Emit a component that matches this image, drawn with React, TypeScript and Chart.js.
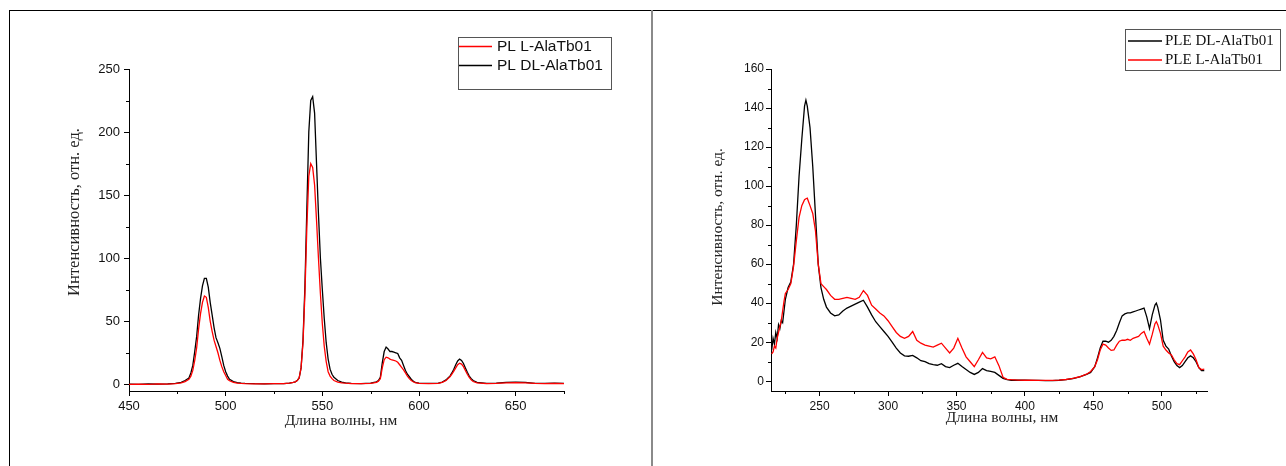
import React, { useEffect, useRef } from "react";
import { Chart, registerables } from "chart.js";

Chart.register(...registerables);

// ---------------- Left panel: PL spectra ----------------
const plWavelength = [
  450, 455, 460, 465, 470, 474, 477, 479, 481, 482,
  483, 484, 485, 486, 487, 488, 489, 490, 491, 492,
  493, 494, 495, 496, 497, 498, 499, 500, 501, 502,
  504, 506, 508, 510, 515, 520, 525, 530, 533, 535,
  536, 537, 538, 539, 540, 541, 542, 543, 544, 545,
  546, 547, 548, 549, 550, 551, 552, 553, 554, 555,
  556, 558, 560, 562, 565, 570, 575, 578, 579, 580,
  581, 582, 583, 584, 585, 586, 587, 588, 589, 590,
  591, 592, 593, 594, 595, 596, 597, 598, 600, 605,
  610, 612, 614, 615, 616, 617, 618, 619, 620, 621,
  622, 623, 624, 625, 626, 627, 628, 630, 635, 640,
  645, 650, 655, 660, 665, 670, 675,
];
const plDL = [
  0.2, 0, 0.3, 0.1, 0.4, 0.8, 1.6, 3, 5, 9,
  15, 26, 38, 55, 68, 78, 84, 84, 77, 65,
  55, 45, 37, 33, 28.5, 22, 15, 10, 6.5, 4,
  2.2, 1.4, 1, 0.8, 0.5, 0.4, 0.5, 0.6, 0.9, 1.5,
  2, 3, 5, 13, 35, 78, 140, 200, 225, 228,
  215, 175, 135, 100, 75, 52, 33, 20, 12, 8,
  5.5, 3, 1.8, 1.2, 0.8, 0.6, 0.9, 2, 3, 5.5,
  17, 26, 29.5, 28, 26, 26, 25.5, 25, 24.5, 21,
  19, 15, 11, 8, 6, 4, 2.5, 1.5, 1, 0.7,
  0.9, 1.8, 3.5, 5, 6.5, 9, 12, 15.5, 18.5, 20,
  19, 16.5, 13, 9.5, 6.5, 4.5, 3, 1.5, 0.8, 0.9,
  1.6, 1.8, 1.5, 0.8, 0.7, 1, 0.8,
];
const plL = [
  0, 0.2, 0, 0.3, 0.2, 0.6, 1.2, 2.2, 4, 6.5,
  11, 19, 29, 44, 56, 65, 70, 69, 61, 50,
  42, 35, 30, 25, 19, 14, 10, 7, 4, 2.8,
  1.6, 1, 0.7, 0.5, 0.4, 0.3, 0.5, 0.6, 0.9, 1.5,
  2, 3, 5, 13, 33, 72, 125, 165, 175, 172,
  158, 130, 100, 72, 48, 30, 18, 10, 6.5, 4.5,
  3, 1.8, 1.2, 0.9, 0.6, 0.5, 0.7, 1.5, 2.5, 4.5,
  13, 19.5, 21.5, 21, 20, 19.3, 19, 18.5, 17.5, 15.5,
  13.5, 11.5, 9, 6.5, 4.5, 3, 2, 1.3, 0.8, 0.6,
  0.7, 1.5, 3, 4.5, 6, 8, 10.5, 13, 15.5, 16.7,
  16, 14, 11, 8, 5.5, 3.5, 2.2, 1.2, 0.6, 0.7,
  1.2, 1.3, 1.1, 0.7, 0.6, 0.8, 0.6,
];
const plXTicks = [450, 475, 500, 525, 550, 575, 600, 625, 650, 675];
const plXLabels = [450, 500, 550, 600, 650];
const plYTicks = [0, 25, 50, 75, 100, 125, 150, 175, 200, 225, 250];
const plYLabels = [0, 50, 100, 150, 200, 250];

// ---------------- Right panel: PLE spectra ----------------
const pleWavelength = [
  215, 216, 217, 218, 219, 220, 221, 222, 223, 224,
  225, 227, 229, 231, 233, 235, 237, 239, 240, 241,
  243, 245, 247, 249, 251, 253, 255, 258, 261, 264,
  267, 270, 273, 276, 279, 282, 285, 288, 291, 294,
  297, 300, 303, 306, 309, 312, 315, 318, 321, 324,
  327, 330, 333, 336, 339, 342, 345, 348, 351, 354,
  357, 360, 363, 366, 369, 372, 375, 378, 381, 384,
  387, 390, 395, 400, 405, 410, 415, 420, 425, 430,
  435, 440, 445, 448, 451, 453, 455, 457, 459, 461,
  463, 465, 467, 469, 471, 473, 475, 477, 479, 481,
  483, 485, 487, 489, 491, 493, 495, 496, 497, 499,
  501, 503, 505, 507, 509, 511, 513, 515, 517, 519,
  521, 523, 525, 527, 529, 531,
];
const pleDL = [
  16, 22, 19, 25, 22, 29, 27, 31, 30, 36,
  42, 48, 51, 60, 80, 105, 124, 141, 144, 141,
  130, 110, 85, 60, 48, 42, 38, 35, 33.5, 34,
  36, 37.5, 38.5, 39.5, 40.5, 41.5, 38, 34, 30.5, 28,
  25.5, 23, 20, 17, 14.5, 13, 12.8, 13.2, 12, 10.5,
  10, 9, 8.5, 8.2, 9, 7.5, 7, 8.2, 9.2, 7.5,
  6, 4.5, 3.5, 4.5, 6.5, 5.5, 5, 4.5, 3, 1.5,
  0.8, 0.5, 0.5, 0.5, 0.4, 0.4, 0.3, 0.3, 0.5, 0.8,
  1.4, 2.2, 3.5, 4.5, 7.5, 12, 17, 20.5, 20.5, 20,
  21, 23, 26, 30, 33.5, 34.5, 35, 35, 35.5, 36,
  36.5, 37, 37.5, 33, 27, 34, 39, 40, 38, 31.5,
  21, 18, 16.5, 13, 10, 8, 7, 8, 10, 12,
  13, 12, 10, 7, 5.5, 5.5,
];
const pleL = [
  14, 15, 18, 17, 22, 25, 28, 31, 36, 41,
  45, 47, 50, 59, 72, 84, 90, 93, 93.5, 93.8,
  90, 86, 77, 60, 50, 48.5, 47, 44, 42, 42,
  42.5, 43, 42.5, 42, 43, 46.5, 44, 39, 37, 35,
  33.5, 31, 28, 25, 23, 22, 23, 25.5, 21, 19.5,
  18.5, 18, 17.5, 18.5, 19.5, 17, 14.5, 17, 22, 17,
  12.5, 10, 7.5, 11, 14.8, 12, 11.5, 12.5, 8, 2,
  1, 0.8, 0.6, 0.5, 0.5, 0.4, 0.4, 0.4, 0.6, 0.9,
  1.5, 2.3, 3.6, 5, 7.5, 11, 16, 19, 18.5, 17,
  15.8, 16, 18.5, 20.5, 21, 21, 21.5, 21, 22, 22.5,
  23, 24.5, 25.5, 22, 19, 24, 29.5, 30.6, 29, 24.5,
  18, 16, 14.5, 13.5, 11, 9, 8.5, 10.5, 12.5, 15,
  16, 14, 11, 7, 6, 6.2,
];
const pleXTicks = [225, 250, 275, 300, 325, 350, 375, 400, 425, 450, 475, 500, 525];
const pleXLabels = [250, 300, 350, 400, 450, 500];
const pleYTicks = [0, 10, 20, 30, 40, 50, 60, 70, 80, 90, 100, 110, 120, 130, 140, 150, 160];
const pleYLabels = [0, 20, 40, 60, 80, 100, 120, 140, 160];

const xTitleText = "Длина волны, нм";
const yTitleText = "Интенсивность, отн. ед.";

const SANS = "'Liberation Sans', Arial, sans-serif";
const SERIF = "'Liberation Serif', 'Times New Roman', serif";

type Series = { label: string; x: number[]; y: number[]; color: string; order: number };

type Panel = {
  left: number; top: number; width: number; height: number;
  area: { left: number; right: number; top: number; bottom: number };
  xMin: number; xMax: number; yMin: number; yMax: number;
  xTicks: number[]; xLabels: number[]; yTicks: number[]; yLabels: number[];
  series: Series[];
  tickSize: number; yPad: number; xPad: number;
  xTitle: { x: number; y: number; size: number };
  yTitle: { x: number; y: number; size: number };
  legend: {
    box: [number, number, number, number];
    rows: number[];
    line: [number, number];
    textX: number;
    font: string;
  };
};

const decorPlugin = {
  id: "decor",
  afterDraw(chart: any, _args: any, opts: any) {
    const ctx = chart.ctx as CanvasRenderingContext2D;
    const ca = chart.chartArea;
    const p: Panel = opts.panel;
    const ox = p.left;
    const oy = p.top;
    const xs = chart.scales.x;
    const ys = chart.scales.y;
    ctx.save();
    // minor ticks
    ctx.strokeStyle = "#000";
    ctx.lineWidth = 1;
    ctx.beginPath();
    p.xTicks.filter((v) => !p.xLabels.includes(v)).forEach((v) => {
      const px = Math.round(xs.getPixelForValue(v)) + 0.5;
      ctx.moveTo(px, ca.bottom);
      ctx.lineTo(px, ca.bottom + 3);
    });
    p.yTicks.filter((v) => !p.yLabels.includes(v)).forEach((v) => {
      const py = Math.round(ys.getPixelForValue(v)) + 0.5;
      ctx.moveTo(ca.left, py);
      ctx.lineTo(ca.left - 3, py);
    });
    ctx.stroke();

    // axis titles
    ctx.fillStyle = "#222";
    ctx.textAlign = "center";
    ctx.textBaseline = "alphabetic";
    ctx.font = `${p.xTitle.size}px ${SERIF}`;
    ctx.fillText(xTitleText, p.xTitle.x - ox, p.xTitle.y - oy);
    ctx.save();
    ctx.translate(p.yTitle.x - ox, p.yTitle.y - oy);
    ctx.rotate(-Math.PI / 2);
    ctx.textBaseline = "middle";
    ctx.font = `${p.yTitle.size}px ${SERIF}`;
    ctx.fillText(yTitleText, 0, 0);
    ctx.restore();

    // legend
    const lg = p.legend;
    ctx.strokeStyle = "#555";
    ctx.lineWidth = 1;
    ctx.strokeRect(Math.round(lg.box[0] - ox) + 0.5, Math.round(lg.box[1] - oy) + 0.5, Math.round(lg.box[2]), Math.round(lg.box[3]));
    ctx.font = lg.font;
    ctx.textAlign = "left";
    ctx.textBaseline = "middle";
    p.series.forEach((s, i) => {
      const y = lg.rows[i] - oy;
      ctx.strokeStyle = s.color;
      ctx.lineWidth = 1.3;
      ctx.beginPath();
      ctx.moveTo(lg.line[0] - ox, y);
      ctx.lineTo(lg.line[1] - ox, y);
      ctx.stroke();
      ctx.fillStyle = "#111";
      ctx.fillText(s.label, lg.textX - ox, y + 0.5);
    });
    ctx.restore();
  },
};

function buildConfig(p: Panel): any {
  const canvasBottom = p.top + p.height;
  const canvasRight = p.left + p.width;
  return {
    type: "line",
    data: {
      datasets: p.series.map((s) => ({
        label: s.label,
        data: s.x.map((x, i) => ({ x, y: s.y[i] })),
        borderColor: s.color,
        backgroundColor: s.color,
        borderWidth: 1.3,
        pointRadius: 0,
        tension: 0,
        fill: false,
        order: s.order,
      })),
    },
    options: {
      responsive: false,
      animation: false,
      devicePixelRatio: 1,
      layout: {
        padding: { left: 0, top: p.area.top - p.top, right: canvasRight - p.area.right, bottom: 0 },
      },
      plugins: {
        legend: { display: false },
        tooltip: { enabled: false },
        decor: { panel: p },
      },
      scales: {
        x: {
          type: "linear",
          min: p.xMin,
          max: p.xMax,
          afterBuildTicks: (s: any) => {
            s.ticks = p.xTicks.map((v) => ({ value: v }));
          },
          afterFit: (s: any) => {
            s.height = canvasBottom - p.area.bottom;
          },
          grid: {
            display: true,
            drawOnChartArea: false,
            drawTicks: true,
            tickLength: 5,
            tickWidth: 1,
            tickColor: (c: any) => (c.tick && p.xLabels.includes(c.tick.value) ? "#000" : "rgba(0,0,0,0)"),
          },
          border: { display: true, color: "#000", width: 1 },
          ticks: {
            autoSkip: false,
            maxRotation: 0,
            padding: p.xPad,
            color: "#111",
            font: { family: SANS, size: p.tickSize },
            callback: (v: number) => (p.xLabels.includes(v) ? String(v) : ""),
          },
          title: { display: false },
        },
        y: {
          type: "linear",
          min: p.yMin,
          max: p.yMax,
          afterBuildTicks: (s: any) => {
            s.ticks = p.yTicks.map((v) => ({ value: v }));
          },
          afterFit: (s: any) => {
            s.width = p.area.left - p.left;
          },
          grid: {
            display: true,
            drawOnChartArea: false,
            drawTicks: true,
            tickLength: 5,
            tickWidth: 1,
            tickColor: (c: any) => (c.tick && p.yLabels.includes(c.tick.value) ? "#000" : "rgba(0,0,0,0)"),
          },
          border: { display: true, color: "#000", width: 1 },
          ticks: {
            autoSkip: false,
            padding: p.yPad,
            color: "#111",
            font: { family: SANS, size: p.tickSize },
            callback: (v: number) => (p.yLabels.includes(v) ? String(v) : ""),
          },
          title: { display: false },
        },
      },
    },
    plugins: [decorPlugin],
  };
}

const leftPanel: Panel = {
  left: 10, top: 11, width: 641, height: 455,
  area: { left: 129, right: 564, top: 69, bottom: 391 },
  xMin: 450, xMax: 675, yMin: -5.3, yMax: 250,
  xTicks: plXTicks, xLabels: plXLabels, yTicks: plYTicks, yLabels: plYLabels,
  series: [
    { label: "PL L-AlaTb01", x: plWavelength, y: plL, color: "#ff0000", order: 0 },
    { label: "PL DL-AlaTb01", x: plWavelength, y: plDL, color: "#000000", order: 1 },
  ],
  tickSize: 13, yPad: 4, xPad: 3,
  xTitle: { x: 341, y: 425, size: 15.5 },
  yTitle: { x: 75, y: 212, size: 16.5 },
  legend: {
    box: [458, 37, 153, 52],
    rows: [46.5, 65.5],
    line: [459, 492],
    textX: 497,
    font: `15.5px ${SANS}`,
  },
};

const rightPanel: Panel = {
  left: 654, top: 11, width: 632, height: 455,
  area: { left: 771, right: 1207, top: 69, bottom: 391 },
  xMin: 214.5, xMax: 533, yMin: -5, yMax: 160,
  xTicks: pleXTicks, xLabels: pleXLabels, yTicks: pleYTicks, yLabels: pleYLabels,
  series: [
    { label: "PLE DL-AlaTb01", x: pleWavelength, y: pleDL, color: "#000000", order: 1 },
    { label: "PLE L-AlaTb01", x: pleWavelength, y: pleL, color: "#ff0000", order: 0 },
  ],
  tickSize: 12, yPad: 2, xPad: 3,
  xTitle: { x: 1002, y: 422, size: 15.5 },
  yTitle: { x: 718, y: 227, size: 15.5 },
  legend: {
    box: [1125, 29, 155, 41],
    rows: [41, 60],
    line: [1128, 1162],
    textX: 1165,
    font: `15px ${SERIF}`,
  },
};

function ChartPanel({ panel }: { panel: Panel }) {
  const ref = useRef<HTMLCanvasElement | null>(null);
  useEffect(() => {
    if (!ref.current) return;
    const chart = new Chart(ref.current, buildConfig(panel));
    return () => chart.destroy();
  }, [panel]);
  return (
    <canvas
      ref={ref}
      width={panel.width}
      height={panel.height}
      style={{ position: "absolute", left: panel.left, top: panel.top, width: panel.width, height: panel.height }}
    />
  );
}

export default function App() {
  return (
    <div style={{ position: "fixed", left: 0, top: 0, width: 1286, height: 466, background: "#fff", overflow: "hidden" }}>
      <div style={{ position: "absolute", left: 9, top: 10, width: 1277, height: 1, background: "#000" }} />
      <div style={{ position: "absolute", left: 9, top: 10, width: 1, height: 456, background: "#000" }} />
      <div style={{ position: "absolute", left: 651, top: 10, width: 2, height: 456, background: "#8a8a8a" }} />
      <ChartPanel panel={leftPanel} />
      <ChartPanel panel={rightPanel} />
    </div>
  );
}
